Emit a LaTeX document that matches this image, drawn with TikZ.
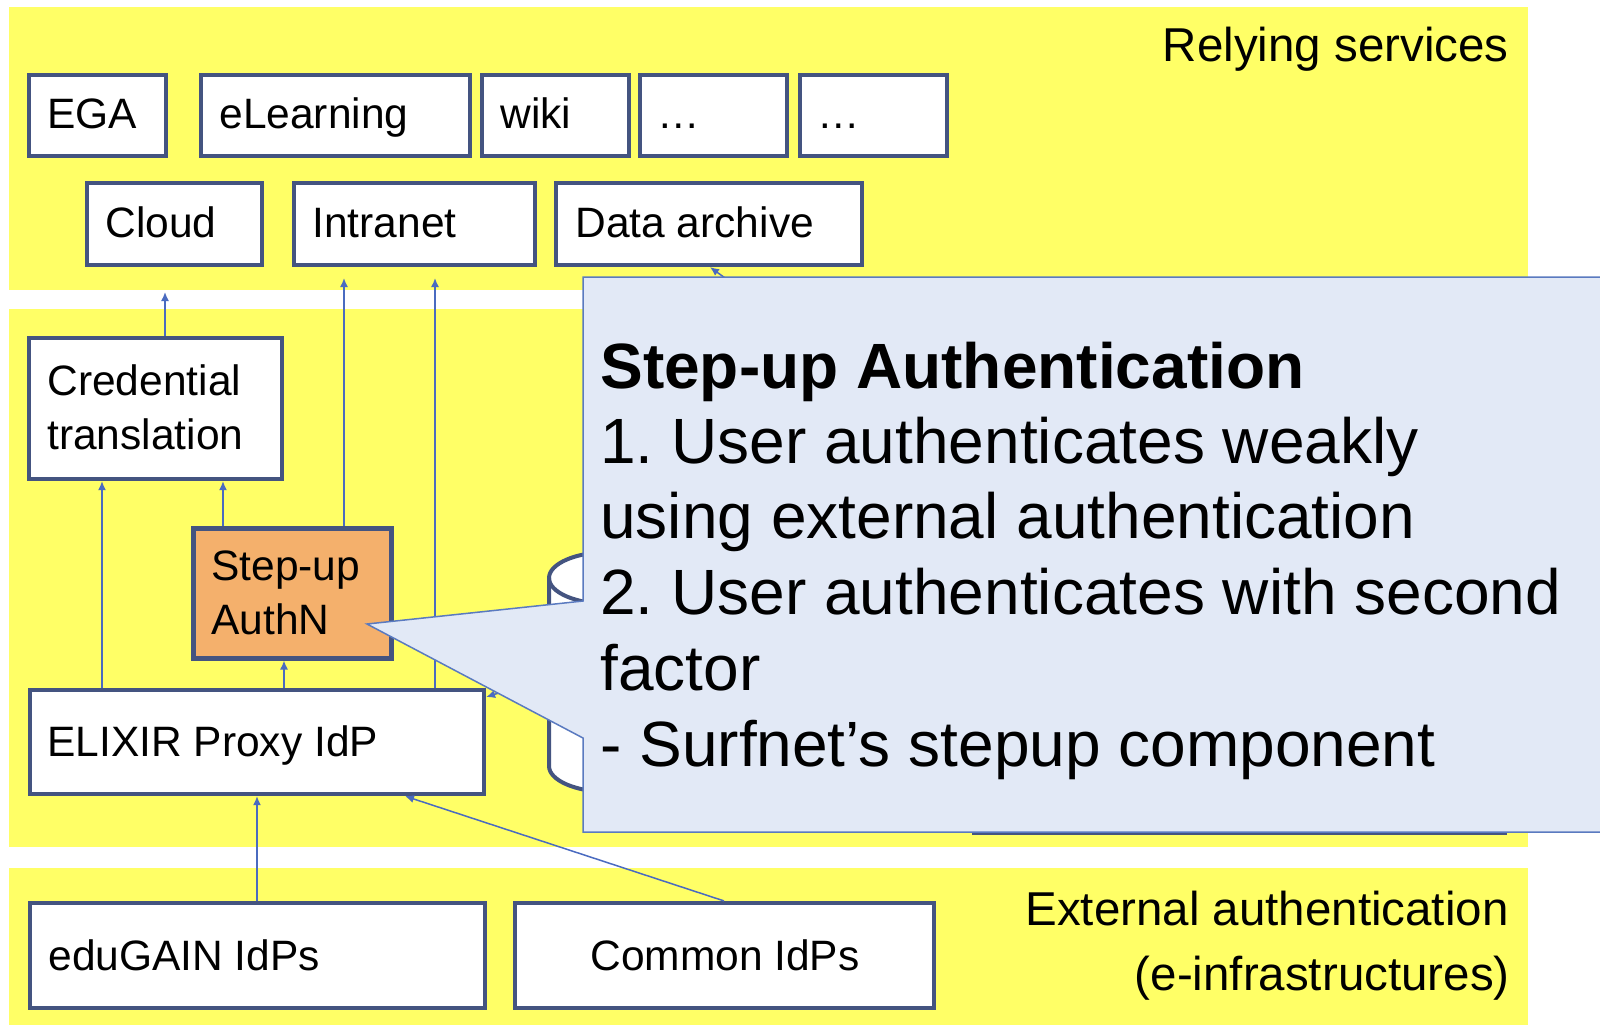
\documentclass[tikz,border=0pt]{standalone}
\usepackage{fontspec}
\setmainfont{Liberation Sans}
\usetikzlibrary{arrows.meta,calc}
\definecolor{bandy}{HTML}{FFFF66}
\definecolor{boxc}{RGB}{68,84,128}
\definecolor{arrc}{HTML}{4A6BC0}
\definecolor{callfill}{HTML}{E2E9F6}
\definecolor{callline}{HTML}{5A7AC0}
\definecolor{stepfill}{HTML}{F4B06C}
\newcommand\bxfont{\fontsize{21.25pt}{27.25pt}\selectfont}
\newcommand\lblfont{\fontsize{23.75pt}{32pt}\selectfont}
\newcommand\clfont{\fontsize{32pt}{38pt}\selectfont}
\frenchspacing
\begin{document}
\begin{tikzpicture}[x=0.5pt,y=-0.5pt,
  band/.style={fill=bandy, draw=none},
  sbox/.style={draw=boxc, line width=2.1pt, fill=white, inner sep=0pt},
  txt/.style={inner sep=0pt, anchor=base west, font=\bxfont},
  lbl/.style={inner sep=0pt, anchor=base east, font=\lblfont},
  ctxt/.style={inner sep=0pt, anchor=base west, font=\clfont},
  conn/.style={draw=arrc, line width=0.75pt, -{Latex[length=4.5pt,width=4pt]}},
]
\useasboundingbox (0,0) rectangle (1600,1025);
\fill[white] (0,0) rectangle (1600,1025);

% bands
\path[band] (9,7) rectangle (1528,290);
\path[band] (9,309) rectangle (1528,847);
\path[band] (9,868) rectangle (1528,1025);

\node[lbl] (rs-t) at (1509,61) {Relying services};
\node[lbl] (ext-t1) at (1509,925) {External authentication};
\node[lbl] (ext-t2) at (1510,990) {(e-infrastructures)};

% relying services boxes
\node[sbox, minimum width=68.5pt, minimum height=40.5pt] (ega) at (97.5,115.5) {};
\node[sbox, minimum width=134.5pt, minimum height=40.5pt] (elearn) at (335.5,115.5) {};
\node[sbox, minimum width=73.5pt, minimum height=40.5pt] (wiki) at (555.5,115.5) {};
\node[sbox, minimum width=73.5pt, minimum height=40.5pt] (dots1) at (713.5,115.5) {};
\node[sbox, minimum width=73.5pt, minimum height=40.5pt] (dots2) at (873.5,115.5) {};
\node[sbox, minimum width=87.5pt, minimum height=41pt] (cloud) at (174.5,224) {};
\node[sbox, minimum width=120.5pt, minimum height=41pt] (intranet) at (414.5,224) {};
\node[sbox, minimum width=153pt, minimum height=41pt] (archive) at (709,224) {};

\node[txt] (ega-t) at (47,128) {EGA};
\node[txt] (elearn-t) at (219,128) {eLearning};
\node[txt] (wiki-t) at (500,128) {wiki};
\node[txt] (dots1-t) at (657,128) {…};
\node[txt] (dots2-t) at (817,128) {…};
\node[txt] (cloud-t) at (105,237) {Cloud};
\node[txt] (intranet-t) at (312,237) {Intranet};
\node[txt] (archive-t) at (575,237) {Data archive};

% middle boxes
\node[sbox, minimum width=126.5pt, minimum height=70.5pt] (cred) at (155.5,408.5) {};
\node[sbox, fill=stepfill, line width=2.5pt, minimum width=99pt, minimum height=65pt] (stepup) at (292,593) {};
\node[sbox, minimum width=227pt, minimum height=52pt] (elixir) at (257,742) {};

\node[txt] (cred-t1) at (47,395) {Credential};
\node[txt] (cred-t2) at (47,449) {translation};
\node[txt] (stepup-t1) at (211,580) {Step-up};
\node[txt] (stepup-t2) at (211,634) {AuthN};
\node[txt] (elixir-t) at (47,756) {ELIXIR Proxy IdP};

% bottom boxes
\node[sbox, minimum width=227.5pt, minimum height=52.5pt] (edugain) at (257.5,955.5) {};
\node[sbox, minimum width=209.5pt, minimum height=52.5pt] (common) at (724.5,955.5) {};
\node[txt] (edugain-t) at (48,970) {eduGAIN IdPs};
\node[txt, anchor=base] (common-t) at (725,970) {Common IdPs};

% connectors
\coordinate (rsA) at (165,292);
\coordinate (rsB) at (344,278);
\coordinate (rsC) at (435,278);
\coordinate (colA) at (102,0);
\coordinate (colB) at (223,0);
\coordinate (colC) at (284,0);
\coordinate (colD) at (257,0);
\coordinate (colE) at (405,0);
\coordinate (colF) at (710,0);
\coordinate (cmA) at (724,0);
\coordinate (rowA) at (0,697);
\draw[conn] (rsA |- cred.north) -- (rsA);
\draw[conn] (rsB |- stepup.north) -- (rsB);
\draw[conn] (rsC |- elixir.north) -- (rsC);
\draw[conn] (colA |- elixir.north) -- (colA |- cred.south);
\draw[conn] (colB |- stepup.north) -- (colB |- cred.south);
\draw[conn] (colC |- elixir.north) -- (colC |- stepup.south);
\draw[conn] (colD |- edugain.north) -- (colD |- elixir.south);
\draw[conn] (cmA |- common.north) -- (colE |- elixir.south);

% hidden components behind the callout
\path[fill=white, draw=boxc, line width=2pt]
  (549,578) -- (549,766) arc[start angle=180, end angle=0, x radius=60, y radius=26]
  -- (669,578) arc[start angle=0, end angle=-180, x radius=60, y radius=26] -- cycle;
\draw[boxc, line width=2pt] (549,578) arc[start angle=180, end angle=0, x radius=60, y radius=26];
\node[sbox, minimum width=265.5pt, minimum height=66.5pt] (hid) at (1239.5,766.5) {};
\coordinate (hidsrc) at (790,325);
\coordinate (cylsrc) at (549,677);
\draw[conn] (hidsrc) -- (colF |- archive.south);
\draw[conn] (cylsrc) -- (elixir.east |- rowA);

% callout
\path[fill=callfill, draw=callline, line width=0.75pt]
  (583,277) -- (1605,277) -- (1605,832) -- (583,832) -- (583,738)
  -- (367,624) -- (583,601) -- cycle;
\node[ctxt] (c1) at (600,388) {\bfseries Step-up Authentication};
\node[ctxt] (c2) at (600,463) {1. User authenticates weakly};
\node[ctxt] (c3) at (600,538) {using external authentication};
\node[ctxt] (c4) at (600,614) {2. User authenticates with second};
\node[ctxt] (c5) at (600,690) {factor};
\node[ctxt] (c6) at (600,766) {- Surfnet’s stepup component};
\end{tikzpicture}
\end{document}
